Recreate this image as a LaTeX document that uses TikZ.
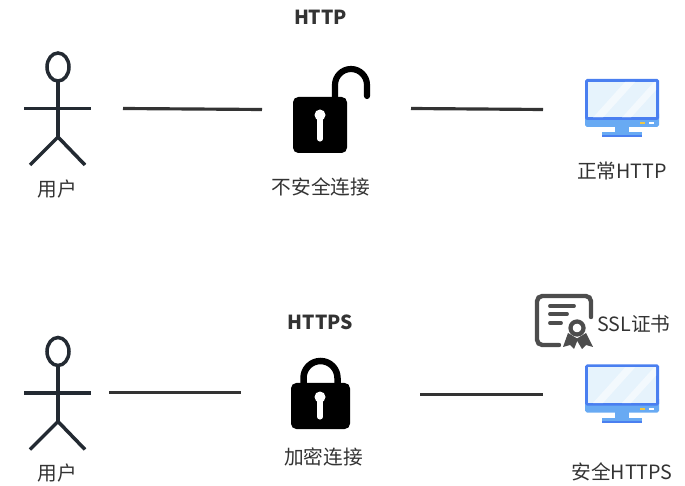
\documentclass[tikz,border=0pt]{standalone}
\usepackage{fontspec}
\setmainfont{Noto Sans CJK SC}
\definecolor{inkgray}{RGB}{51, 51, 51}
\definecolor{actorink}{RGB}{35, 42, 50}
\definecolor{certgray}{RGB}{77, 77, 77}
\definecolor{framblue}{RGB}{74, 127, 240}
\definecolor{baseblue}{RGB}{104, 170, 243}
\definecolor{glassblue}{RGB}{230, 243, 252}
\definecolor{ledyellow}{RGB}{240, 200, 70}
\tikzset{
    label/.style={text=inkgray, font=\fontsize{11.2pt}{13pt}\selectfont, inner sep=0pt},
    title/.style={text=inkgray, font=\fontsize{11pt}{13pt}\selectfont\bfseries, inner sep=0pt},
    link/.style={draw=inkgray, line width=1.8pt},
    pics/actor/.style={code={
        \draw[actorink, line width=2pt] (58,67) ellipse [x radius=11, y radius=14];
        \draw[actorink, line width=2pt] (58,81) -- (58,137);
        \draw[actorink, line width=1.8pt] (24,108.5) -- (91,108.5);
        \draw[actorink, line width=2pt] (30,165) -- (58,137) -- (85,165);
    }},
    pics/monitor/.style={code={
        \fill[baseblue] (602,132) rectangle (642,137);
        \fill[framblue] (602,135.5) rectangle (642,137);
        \fill[baseblue] (615,126) rectangle (629,133);
        \fill[baseblue, rounded corners=1pt] (585,112) rectangle (659,127);
        \fill[framblue, rounded corners=1pt] (585,79) rectangle (659,120);
        \fill[glassblue] (588,82) rectangle (656,117.5);
        \fill[white, opacity=.55] (593,117.5) -- (625,82) -- (635,82) -- (603,117.5) -- cycle;
        \fill[white, opacity=.55] (622,117.5) -- (654,82) -- (656,82) -- (656,90) -- (631,117.5) -- cycle;
        \fill[ledyellow] (640,122.5) rectangle (645,124.5);
        \fill[white] (649,122.5) rectangle (654,124.5);
    }},
    pics/keyhole/.style={code={
        \fill[white] (0,0) circle (5.5);
        \draw[white, line width=2.9pt, line cap=round] (0,2) -- (0,#1);
    }}
}
\begin{document}
\begin{tikzpicture}[x=0.2mm, y=-0.2mm]
    \useasboundingbox (0,0) rectangle (685,486);
    % HTTP row
    \node[title] (httptitle) at (320.5,17) {HTTP};
    \pic at (0,0) {actor};
    \node[label] (useropen) at (57.5,189) {用户};
    % open lock
    \draw[black, line width=3.5pt, line cap=round] (335,98) -- (335,85) arc [start angle=180, end angle=360, radius=16] -- (367,96);
    \fill[black, rounded corners=3pt] (293,97) rectangle (347,153);
    \pic at (320,115) {keyhole=24};
    \node[label] (openlock) at (321,187) {不安全连接};
    \pic at (0,0) {monitor};
    \node[label] (plainserver) at (622,171) {正常HTTP};
    \coordinate (a1) at (123,108.5);
    \coordinate (b1) at (262,109.5);
    \coordinate (c1) at (411,108.5);
    \coordinate (d1) at (543,109.5);
    \draw[link] (a1) -- (b1);
    \draw[link] (c1) -- (d1);
    % HTTPS row
    \node[title] (httpstitle) at (320.5,322) {HTTPS};
    \pic at (0,284.5) {actor};
    \node[label] (usersafe) at (57.5,473) {用户};
    % closed lock
    \draw[black, line width=3.7pt] (303.5,386) -- (303.5,378) arc [start angle=180, end angle=360, radius=17] -- (337.5,386);
    \fill[black, rounded corners=3pt] (291,383) rectangle (350,429);
    \pic at (320,397) {keyhole=20};
    \node[label] (closedlock) at (323.5,457) {加密连接};
    \pic at (0,285.5) {monitor};
    \node[label] (safeserver) at (622,472) {安全HTTPS};
    \coordinate (a2) at (109,392.5);
    \coordinate (b2) at (241,392.5);
    \coordinate (c2) at (420,394.5);
    \coordinate (d2) at (543,394.5);
    \draw[link] (a2) -- (b2);
    \draw[link] (c2) -- (d2);
    % certificate
    \draw[certgray, line width=2.5pt, line cap=round, rounded corners=3pt] (559,345) -- (537,345) -- (537,296) -- (591,296) -- (591,317);
    \draw[certgray, line width=2.2pt, line cap=round] (550,306) -- (574,306);
    \draw[certgray, line width=2.2pt, line cap=round] (550,314) -- (567,314);
    \draw[certgray, line width=2.2pt, line cap=round] (550,323) -- (561,323);
    \fill[certgray] (568,333) -- (563,347) -- (570,345) -- (574,349) -- (578,339) -- cycle;
    \fill[certgray] (586,333) -- (593,347) -- (586,345) -- (582,349) -- (576,339) -- cycle;
    \draw[certgray, line width=2.4pt, fill=white] (577,328) circle (6.5);
    \node[label] (sslcert) at (634,324) {SSL证书};
\end{tikzpicture}
\end{document}
